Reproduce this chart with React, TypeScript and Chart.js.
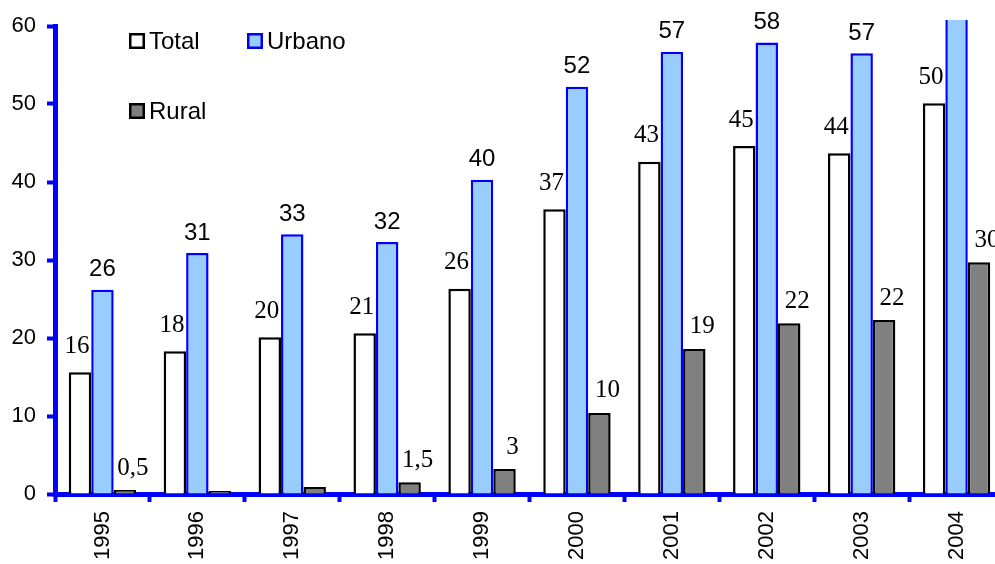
import React, { useEffect, useRef } from "react";
import { Chart, registerables } from "chart.js";

Chart.register(...registerables);

// Years on the category axis
const years = ["1995", "1996", "1997", "1998", "1999", "2000", "2001", "2002", "2003", "2004"];

// Series values
const totalValues = [15.6, 18.3, 20.1, 20.6, 26.3, 36.5, 42.6, 44.6, 43.7, 50.1];
const urbanoValues = [26.2, 30.9, 33.3, 32.3, 40.3, 52.2, 56.7, 57.9, 56.5, 63];
const ruralValues = [0.5, 0.4, 0.9, 1.5, 3.2, 10.4, 18.6, 21.9, 22.3, 29.7];

// Which rural bars carry a value label
const ruralLabelShown = [true, false, false, true, true, true, true, true, true, true];

// Value axis ticks
const yMin = 0;
const yMax = 60;
const yStep = 10;

const SANS = "'Liberation Sans', Arial, sans-serif";
const SERIF = "'Liberation Serif', 'Times New Roman', serif";
const BLUE = "#0000ff";
const URBANO_FILL = "#99ccff";
const RURAL_FILL = "#808080";

function formatValue(v: number): string {
  if (v < 2) return v.toFixed(1).replace(".", ",");
  return String(Math.round(v));
}

// Value labels above each bar; each series has its own font and offset
const labelStyles = [
  { font: `25px ${SERIF}`, dx: -3, dy: 26, shown: years.map(() => true) },
  { font: `24px ${SANS}`, dx: 0, dy: 20, shown: years.map(() => true) },
  { font: `25px ${SERIF}`, dx: 8, dy: 22, shown: ruralLabelShown },
];

const valueLabels = {
  id: "valueLabels",
  afterDatasetsDraw(chart: any) {
    const ctx = chart.ctx;
    ctx.save();
    ctx.fillStyle = "#000";
    ctx.textAlign = "center";
    ctx.textBaseline = "middle";
    chart.data.datasets.forEach((ds: any, di: number) => {
      const meta = chart.getDatasetMeta(di);
      const st = labelStyles[di];
      ctx.font = st.font;
      meta.data.forEach((bar: any, i: number) => {
        const v = ds.data[i];
        if (!st.shown[i] || v > yMax) return;
        ctx.fillText(formatValue(v), bar.x + st.dx, bar.y - st.dy);
      });
    });
    ctx.restore();
  },
};

// Legend laid out in two rows: Total / Urbano, then Rural
const legendItems = [
  { text: "Total", fill: "#ffffff", stroke: "#000000", x: 129, y: 33 },
  { text: "Urbano", fill: URBANO_FILL, stroke: BLUE, x: 247, y: 33 },
  { text: "Rural", fill: RURAL_FILL, stroke: "#000000", x: 129, y: 103 },
];

const customLegend = {
  id: "customLegend",
  afterDraw(chart: any) {
    const ctx = chart.ctx;
    ctx.save();
    ctx.font = `24px ${SANS}`;
    ctx.textAlign = "left";
    ctx.textBaseline = "middle";
    legendItems.forEach((it) => {
      ctx.fillStyle = it.fill;
      ctx.fillRect(it.x, it.y, 16, 16);
      ctx.strokeStyle = it.stroke;
      ctx.lineWidth = 2.5;
      ctx.strokeRect(it.x + 1.25, it.y + 1.25, 13.5, 13.5);
      ctx.fillStyle = "#000";
      ctx.fillText(it.text, it.x + 20, it.y + 9);
    });
    ctx.restore();
  },
};

export default function App() {
  const canvasRef = useRef<HTMLCanvasElement | null>(null);

  useEffect(() => {
    if (!canvasRef.current) return;
    const barClip = { left: 0, top: 6, right: 0, bottom: 0 };
    const chart = new Chart(canvasRef.current, {
      type: "bar",
      data: {
        labels: years,
        datasets: [
          {
            label: "Total",
            data: totalValues,
            backgroundColor: "#ffffff",
            borderColor: "#000000",
            borderWidth: 2.5,
            clip: barClip,
          },
          {
            label: "Urbano",
            data: urbanoValues,
            backgroundColor: URBANO_FILL,
            borderColor: BLUE,
            borderWidth: 2.5,
            clip: barClip,
          },
          {
            label: "Rural",
            data: ruralValues,
            backgroundColor: RURAL_FILL,
            borderColor: "#000000",
            borderWidth: 2.5,
            clip: barClip,
          },
        ] as any,
      },
      options: {
        animation: false,
        responsive: false,
        devicePixelRatio: 1,
        layout: { padding: { top: 26, right: 6, left: 0, bottom: 0 } },
        datasets: {
          bar: { categoryPercentage: 0.71, barPercentage: 1 },
        },
        plugins: {
          legend: { display: false },
          tooltip: { enabled: false },
        },
        scales: {
          x: {
            offset: true,
            grid: {
              display: true,
              offset: true,
              drawOnChartArea: false,
              drawTicks: true,
              tickLength: 8,
              tickWidth: 4,
              tickColor: BLUE,
            },
            border: { display: true, color: BLUE, width: 5 },
            ticks: {
              color: "#000",
              font: { family: SANS, size: 22 },
              minRotation: 90,
              maxRotation: 90,
              padding: 9,
            },
            afterFit(scale: any) {
              scale.height = 70;
            },
          },
          y: {
            min: yMin,
            max: yMax,
            grid: {
              display: true,
              drawOnChartArea: false,
              drawTicks: true,
              tickLength: 8,
              tickWidth: 4,
              tickColor: BLUE,
            },
            border: { display: true, color: BLUE, width: 5 },
            ticks: {
              stepSize: yStep,
              color: "#000",
              font: { family: SANS, size: 22 },
              padding: 11,
            },
            afterFit(scale: any) {
              scale.width = 55;
            },
          },
        },
      } as any,
      plugins: [valueLabels, customLegend],
    });
    return () => chart.destroy();
  }, []);

  return (
    <div style={{ position: "fixed", left: 0, top: 0, width: 1010, height: 564, background: "#fff" }}>
      <canvas ref={canvasRef} width={1010} height={564} style={{ display: "block" }} />
    </div>
  );
}
